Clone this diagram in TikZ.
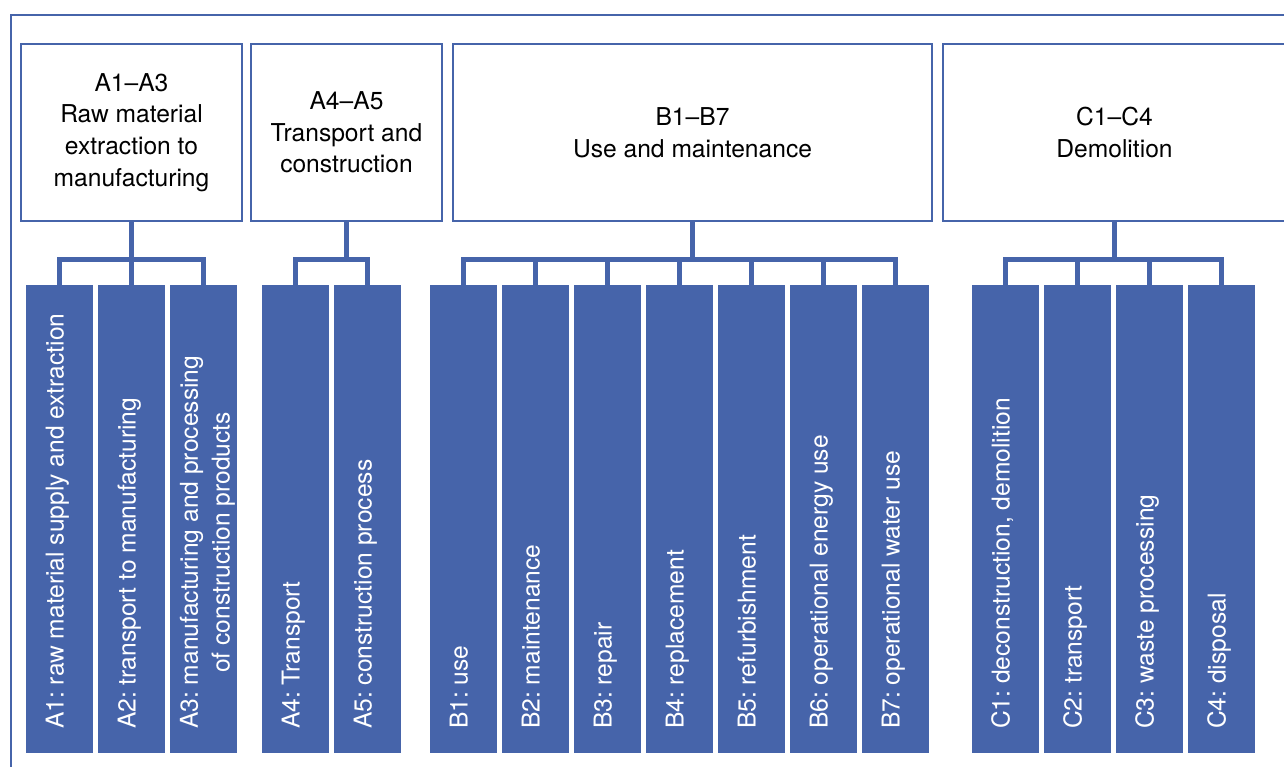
\documentclass[tikz,border=0pt]{standalone}
\usepackage{fontspec}
\setmainfont{TeX Gyre Heros}
\frenchspacing
\usetikzlibrary{positioning}
\definecolor{lcablue}{RGB}{70,100,170}
\tikzset{
  headbox/.style={rectangle, draw=lcablue, line width=2pt, fill=white, outer sep=0pt, inner sep=0pt,
              minimum height=177pt, align=center, text=black,
              font=\fontsize{24.6pt}{31.7pt}\selectfont},
  bar/.style={rectangle, fill=lcablue, outer sep=0pt, inner sep=0pt,
              minimum width=67pt, minimum height=468pt},
  bartext/.style={rotate=90, anchor=base west, inner sep=0pt, align=center, text=white,
              font=\fontsize{24.6pt}{31.7pt}\selectfont},
  link/.style={draw=lcablue, line width=5pt},
}

\begin{document}
\begin{tikzpicture}[x=1pt, y=-1pt, node distance=5pt]
    \useasboundingbox (0,0) rectangle (1284,767);
    \clip (0,0) rectangle (1284,767);
    % outer frame (runs past the crop)
    \draw[lcablue, line width=2pt] (10.5,15.5) rectangle (1310,790);

    % stage headers
    \node[headbox, minimum width=221pt, anchor=north west] (ahead) at (21,44) {A1–A3\\Raw material\\extraction to\\manufacturing};
    \node[headbox, minimum width=191pt, right=9pt of ahead] (a45head) {A4–A5\\Transport and\\construction};
    \node[headbox, minimum width=479pt, right=11pt of a45head] (bhead) {B1–B7\\Use and maintenance};
    \node[headbox, minimum width=343pt, right=11pt of bhead] (chead) {C1–C4\\Demolition};

    % modules
    \node[bar, anchor=north west] (a1) at (26,285) {};
    \node[bar, right=of a1] (a2) {};
    \node[bar, right=of a2] (a3) {};
    \node[bar, anchor=north west] (a4) at (262,285) {};
    \node[bar, right=of a4] (a5) {};
    \node[bar, anchor=north west] (b1) at (430,285) {};
    \node[bar, right=of b1] (b2) {};
    \node[bar, right=of b2] (b3) {};
    \node[bar, right=of b3] (b4) {};
    \node[bar, right=of b4] (b5) {};
    \node[bar, right=of b5] (b6) {};
    \node[bar, right=of b6] (b7) {};
    \node[bar, anchor=north west] (c1) at (972,285) {};
    \node[bar, right=of c1] (c2) {};
    \node[bar, right=of c2] (c3) {};
    \node[bar, right=of c3] (c4) {};

    \node[bartext] (a1t) at ([shift={(4,-24)}]a1.south) {A1: raw material supply and extraction};
    \node[bartext] (a2t) at ([shift={(4,-24)}]a2.south) {A2: transport to manufacturing};
    \node[bartext, anchor=west] (a3t) at ([shift={(4,-24)}]a3.south) {A3: manufacturing and processing\\of construction products};
    \node[bartext] (a4t) at ([shift={(4,-24)}]a4.south) {A4: Transport};
    \node[bartext] (a5t) at ([shift={(4,-24)}]a5.south) {A5: construction process};
    \node[bartext] (b1t) at ([shift={(4,-24)}]b1.south) {B1: use};
    \node[bartext] (b2t) at ([shift={(4,-24)}]b2.south) {B2: maintenance};
    \node[bartext] (b3t) at ([shift={(4,-24)}]b3.south) {B3: repair};
    \node[bartext] (b4t) at ([shift={(4,-24)}]b4.south) {B4: replacement};
    \node[bartext] (b5t) at ([shift={(4,-24)}]b5.south) {B5: refurbishment};
    \node[bartext] (b6t) at ([shift={(4,-24)}]b6.south) {B6: operational energy use};
    \node[bartext] (b7t) at ([shift={(4,-24)}]b7.south) {B7: operational water use};
    \node[bartext] (c1t) at ([shift={(4,-24)}]c1.south) {C1: deconstruction, demolition};
    \node[bartext] (c2t) at ([shift={(4,-24)}]c2.south) {C2: transport};
    \node[bartext] (c3t) at ([shift={(4,-24)}]c3.south) {C3: waste processing};
    \node[bartext] (c4t) at ([shift={(4,-24)}]c4.south) {C4: disposal};

    % tree links
    \draw[link] (a1.north) -- ++(0,-25) coordinate (abus) -| (a3.north);
    \draw[link] (a2.north) -- (a2.north |- abus);
    \draw[link] (ahead.south) -- (ahead.south |- abus);

    \draw[link] (a4.north) -- ++(0,-25) coordinate (a45bus) -| (a5.north);
    \draw[link] (a45head.south) -- (a45head.south |- a45bus);

    \draw[link] (b1.north) -- ++(0,-25) coordinate (bbus) -| (b7.north);
    \draw[link] (b2.north) -- (b2.north |- bbus);
    \draw[link] (b3.north) -- (b3.north |- bbus);
    \draw[link] (b4.north) -- (b4.north |- bbus);
    \draw[link] (b5.north) -- (b5.north |- bbus);
    \draw[link] (b6.north) -- (b6.north |- bbus);
    \draw[link] (bhead.south) -- (bhead.south |- bbus);

    \draw[link] (c1.north) -- ++(0,-25) coordinate (cbus) -| (c4.north);
    \draw[link] (c2.north) -- (c2.north |- cbus);
    \draw[link] (c3.north) -- (c3.north |- cbus);
    \draw[link] (chead.south) -- (chead.south |- cbus);
\end{tikzpicture}
\end{document}
